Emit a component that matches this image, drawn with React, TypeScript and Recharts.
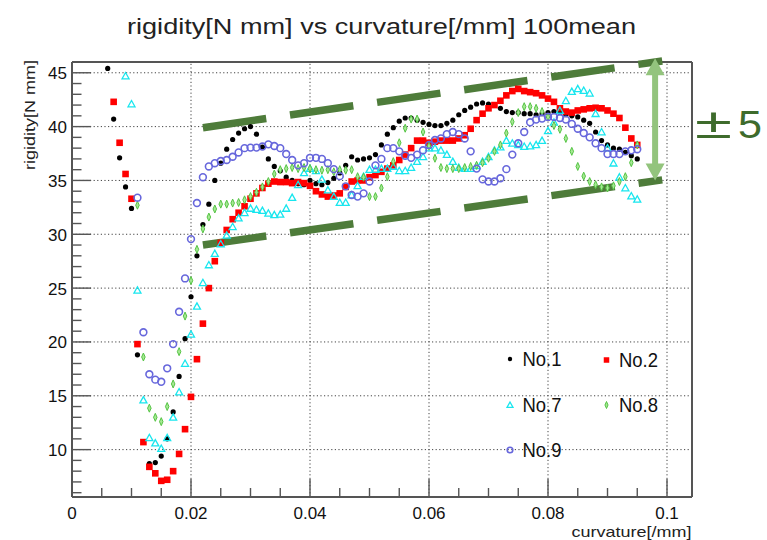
import React from "react";
import { ScatterChart, Scatter, XAxis, YAxis, ReferenceLine } from "recharts";

const FONT = '"Liberation Sans", Arial, Helvetica, sans-serif';

// curvature [/mm], rigidity [N mm]
const no1: [number, number][] = [
  [0.006, 45.4], [0.007, 40.7], [0.008, 37.1], [0.009, 34.4], [0.010, 32.4], [0.011, 18.8],
  [0.013, 8.7], [0.014, 8.8], [0.015, 9.4], [0.016, 11.0], [0.017, 13.5], [0.018, 16.8],
  [0.019, 20.3], [0.020, 24.2], [0.021, 28.0], [0.022, 30.9], [0.023, 32.8], [0.024, 35.0],
  [0.025, 36.6], [0.026, 37.9], [0.027, 38.8], [0.028, 39.4], [0.029, 39.8], [0.030, 40.0],
  [0.031, 39.3], [0.032, 38.1], [0.033, 37.0], [0.034, 36.3], [0.035, 35.9], [0.036, 35.3],
  [0.037, 35.0], [0.038, 34.7], [0.039, 34.6], [0.040, 35.0], [0.041, 34.7], [0.042, 34.6],
  [0.043, 34.8], [0.044, 35.2], [0.045, 35.7], [0.046, 36.4], [0.047, 37.2], [0.048, 36.9],
  [0.049, 37.0], [0.050, 37.1], [0.051, 37.4], [0.052, 38.3], [0.053, 39.3], [0.054, 39.9],
  [0.055, 40.5], [0.056, 40.8], [0.057, 40.8], [0.058, 40.6], [0.059, 40.4], [0.060, 40.2],
  [0.061, 40.1], [0.062, 40.1], [0.063, 40.3], [0.064, 40.6], [0.065, 41.1], [0.066, 41.5],
  [0.067, 41.8], [0.068, 42.1], [0.069, 42.2], [0.070, 42.1], [0.071, 42.0], [0.072, 41.7],
  [0.073, 41.4], [0.074, 41.3], [0.075, 41.3], [0.076, 41.2], [0.077, 41.2], [0.078, 41.1],
  [0.079, 41.2], [0.080, 41.3], [0.081, 41.4], [0.082, 41.3], [0.083, 41.1], [0.084, 41.0],
  [0.085, 40.9], [0.086, 40.6], [0.087, 40.3], [0.088, 39.5], [0.089, 38.7], [0.090, 38.3],
  [0.091, 38.0], [0.092, 37.9], [0.093, 37.6], [0.094, 37.3], [0.095, 37.0],
];

const no2: [number, number][] = [
  [0.007, 42.3], [0.008, 38.5], [0.009, 35.6], [0.010, 33.3], [0.011, 19.8], [0.012, 10.7],
  [0.013, 8.4], [0.014, 7.8], [0.015, 7.1], [0.016, 7.2], [0.017, 8.0], [0.018, 9.6],
  [0.019, 11.9], [0.020, 14.9], [0.021, 18.4], [0.022, 21.7], [0.023, 25.0], [0.024, 27.5],
  [0.025, 29.2], [0.026, 30.4], [0.027, 31.4], [0.028, 32.0], [0.029, 32.6], [0.030, 33.3],
  [0.031, 33.8], [0.032, 34.3], [0.033, 34.7], [0.034, 34.9], [0.035, 34.85], [0.036, 34.85],
  [0.037, 34.75], [0.038, 34.85], [0.039, 34.75], [0.040, 34.5], [0.041, 34.0], [0.042, 33.7],
  [0.043, 33.5], [0.044, 33.6], [0.045, 33.8], [0.046, 34.4], [0.047, 34.9], [0.048, 35.0],
  [0.049, 35.0], [0.050, 35.3], [0.051, 35.5], [0.052, 35.8], [0.053, 36.1], [0.054, 36.4],
  [0.055, 36.9], [0.056, 37.4], [0.057, 38.0], [0.058, 38.7], [0.059, 38.7], [0.060, 38.5],
  [0.061, 38.6], [0.062, 38.7], [0.063, 38.7], [0.064, 38.7], [0.065, 38.9], [0.066, 39.2],
  [0.067, 39.8], [0.068, 40.6], [0.069, 41.2], [0.070, 41.7], [0.071, 42.0], [0.072, 42.4],
  [0.073, 42.9], [0.074, 43.3], [0.075, 43.5], [0.076, 43.3], [0.077, 43.2], [0.078, 43.1],
  [0.079, 42.9], [0.080, 42.6], [0.081, 42.3], [0.082, 41.7], [0.083, 41.4], [0.084, 41.3],
  [0.085, 41.5], [0.086, 41.6], [0.087, 41.7], [0.088, 41.75], [0.089, 41.7], [0.090, 41.5],
  [0.091, 41.2], [0.092, 40.8], [0.093, 39.9], [0.094, 38.9], [0.095, 38.3],
];

const no7: [number, number][] = [
  [0.009, 44.7], [0.010, 42.1], [0.011, 24.8], [0.012, 14.6], [0.013, 11.1], [0.014, 10.6],
  [0.015, 10.1], [0.016, 11.1], [0.017, 13.0], [0.018, 15.35], [0.019, 18.0], [0.020, 20.7],
  [0.021, 23.3], [0.022, 25.5], [0.023, 27.15], [0.024, 28.2], [0.025, 29.1], [0.026, 29.9],
  [0.027, 30.7], [0.028, 31.5], [0.029, 32.0], [0.030, 32.4], [0.031, 32.3], [0.032, 32.2],
  [0.033, 31.95], [0.034, 31.8], [0.035, 31.85], [0.036, 32.4], [0.037, 33.4], [0.038, 34.6],
  [0.039, 35.7], [0.040, 36.1], [0.041, 35.9], [0.042, 35.1], [0.043, 34.1], [0.044, 33.5],
  [0.045, 32.95], [0.046, 32.95], [0.047, 33.65], [0.048, 34.5], [0.049, 35.35], [0.050, 36.0],
  [0.051, 36.0], [0.052, 36.1], [0.053, 36.1], [0.054, 36.3], [0.055, 35.9], [0.056, 35.9],
  [0.057, 36.2], [0.058, 36.75], [0.059, 37.2], [0.060, 38.0], [0.061, 38.0], [0.062, 37.8],
  [0.063, 37.4], [0.064, 36.75], [0.065, 36.2], [0.066, 36.1], [0.067, 36.1], [0.068, 36.35],
  [0.069, 36.75], [0.070, 37.2], [0.071, 37.8], [0.072, 38.1], [0.073, 38.7], [0.074, 38.45],
  [0.075, 38.3], [0.076, 38.15], [0.077, 38.2], [0.078, 38.3], [0.079, 38.7], [0.080, 39.6],
  [0.081, 40.4], [0.082, 41.5], [0.083, 42.4], [0.084, 43.25], [0.085, 43.5], [0.086, 43.35],
  [0.087, 43.1], [0.088, 41.2], [0.089, 39.5], [0.090, 38.0], [0.091, 36.6], [0.092, 35.3],
  [0.093, 34.3], [0.094, 33.55], [0.095, 33.25],
];

const no8: [number, number][] = [
  [0.011, 32.7], [0.012, 18.6], [0.013, 13.85], [0.014, 13.0], [0.015, 12.6], [0.016, 14.0],
  [0.017, 16.1], [0.018, 19.1], [0.019, 22.4], [0.020, 25.7], [0.021, 28.6], [0.022, 30.5],
  [0.023, 31.6], [0.024, 32.35], [0.025, 32.8], [0.026, 32.8], [0.027, 32.9], [0.028, 32.95],
  [0.029, 33.2], [0.030, 33.5], [0.031, 33.9], [0.032, 34.4], [0.033, 34.9], [0.034, 35.6],
  [0.035, 36.0], [0.036, 36.1], [0.037, 36.2], [0.038, 36.1], [0.039, 36.2], [0.040, 36.1],
  [0.041, 36.0], [0.042, 35.95], [0.043, 36.0], [0.044, 35.8], [0.045, 36.0], [0.046, 35.95],
  [0.047, 36.0], [0.048, 35.35], [0.049, 35.3], [0.050, 33.5], [0.051, 33.5], [0.052, 34.3],
  [0.053, 35.35], [0.054, 36.75], [0.055, 38.5], [0.056, 39.85], [0.057, 40.7], [0.058, 40.7],
  [0.059, 39.5], [0.060, 38.2], [0.061, 37.06], [0.062, 36.2], [0.063, 36.1], [0.064, 36.1],
  [0.065, 36.1], [0.066, 36.2], [0.067, 36.3], [0.068, 36.4], [0.069, 36.65], [0.070, 37.06],
  [0.071, 37.7], [0.072, 38.3], [0.073, 39.4], [0.074, 40.45], [0.075, 41.3], [0.076, 41.85],
  [0.077, 41.85], [0.078, 41.7], [0.079, 41.4], [0.080, 40.9], [0.081, 40.1], [0.082, 39.75],
  [0.083, 38.9], [0.084, 37.7], [0.085, 36.3], [0.086, 35.4], [0.087, 34.9], [0.088, 34.6],
  [0.089, 34.4], [0.090, 34.3], [0.091, 34.5], [0.092, 34.9], [0.093, 35.35], [0.094, 36.65],
  [0.095, 38.3],
];

const no9: [number, number][] = [
  [0.011, 33.4], [0.012, 20.9], [0.013, 17.0], [0.014, 16.5], [0.015, 16.3], [0.016, 17.55],
  [0.017, 19.8], [0.018, 22.8], [0.019, 25.9], [0.020, 29.55], [0.021, 32.9], [0.022, 35.3],
  [0.023, 36.3], [0.024, 36.6], [0.025, 36.8], [0.026, 36.9], [0.027, 37.2], [0.028, 37.6],
  [0.029, 38.0], [0.030, 38.05], [0.031, 38.05], [0.032, 38.15], [0.033, 38.35], [0.034, 38.2],
  [0.035, 38.0], [0.036, 37.45], [0.037, 36.9], [0.038, 36.4], [0.039, 36.6], [0.040, 37.1],
  [0.041, 37.1], [0.042, 37.0], [0.043, 36.6], [0.044, 36.05], [0.045, 35.4], [0.046, 34.45],
  [0.047, 33.65], [0.048, 33.5], [0.049, 33.8], [0.050, 34.9], [0.051, 36.4], [0.052, 37.0],
  [0.053, 38.0], [0.054, 38.0], [0.055, 37.7], [0.056, 37.3], [0.057, 37.1], [0.058, 37.4],
  [0.059, 37.8], [0.060, 38.3], [0.061, 38.75], [0.062, 38.9], [0.063, 39.3], [0.064, 39.5],
  [0.065, 39.3], [0.066, 38.9], [0.067, 37.7], [0.068, 36.1], [0.069, 35.1], [0.070, 34.9],
  [0.071, 34.9], [0.072, 35.2], [0.073, 36.05], [0.074, 37.4], [0.075, 38.45], [0.076, 39.5],
  [0.077, 40.4], [0.078, 40.65], [0.079, 40.75], [0.080, 40.9], [0.081, 40.9], [0.082, 40.8],
  [0.083, 40.65], [0.084, 40.25], [0.085, 39.8], [0.086, 39.4], [0.087, 39.0], [0.088, 38.45],
  [0.089, 38.0], [0.090, 37.45], [0.091, 37.45], [0.092, 37.45], [0.093, 37.7], [0.094, 37.8],
  [0.095, 37.9],
];

const xTicks = [0, 0.005, 0.01, 0.015, 0.02, 0.025, 0.03, 0.035, 0.04, 0.045, 0.05, 0.055, 0.06, 0.065, 0.07, 0.075, 0.08, 0.085, 0.09, 0.095, 0.1];
const xMajor = [0, 0.02, 0.04, 0.06, 0.08, 0.1];
const xLabels = ["0", "0.02", "0.04", "0.06", "0.08", "0.1"];

const yTicks = [6, 7, 8, 9, 10, 11, 12, 13, 14, 15, 16, 17, 18, 19, 20, 21, 22, 23, 24, 25, 26, 27, 28, 29, 30, 31, 32, 33, 34, 35, 36, 37, 38, 39, 40, 41, 42, 43, 44, 45, 46];
const yMajor = [10, 15, 20, 25, 30, 35, 40, 45];
const yLabels = ["10", "15", "20", "25", "30", "35", "40", "45"];

// hand drawn ±5 band and arrow (data coords)
const bandUpper = [{ x: 0.022, y: 39.9 }, { x: 0.0992, y: 46.1 }];
const bandLower = [{ x: 0.022, y: 29.0 }, { x: 0.0992, y: 35.05 }];
const bandArrow = [{ x: 0.098, y: 46.35 }, { x: 0.098, y: 35.0 }];

const toPts = (a: [number, number][]) => a.map(([x, y]) => ({ x, y }));

const AXIS = "#555";

const BlackDot = ({ cx, cy, r = 2.6 }: any) => <circle cx={cx} cy={cy} r={r} fill="#000" />;
const RedSquare = ({ cx, cy, s = 6.6 }: any) => <rect x={cx - s / 2} y={cy - s / 2} width={s} height={s} fill="#ff0000" />;
const CyanTriangle = ({ cx, cy, s = 7 }: any) => (
  <polygon points={`${cx},${cy - s * 0.5} ${cx + s * 0.5},${cy + s * 0.4} ${cx - s * 0.5},${cy + s * 0.4}`} fill="none" stroke="#18e6ee" strokeWidth={1.3} />
);
const GreenDiamond = ({ cx, cy, s = 8 }: any) => (
  <polygon points={`${cx},${cy - s / 2} ${cx + s * 0.22},${cy} ${cx},${cy + s / 2} ${cx - s * 0.22},${cy}`} fill="#a6e894" stroke="#55c444" strokeWidth={1} />
);
const BlueCircle = ({ cx, cy, r = 3.4 }: any) => <circle cx={cx} cy={cy} r={r} fill="none" stroke="#6767dc" strokeWidth={1.6} />;

function XTick(props: any) {
  const { x, y, payload } = props;
  const idx = xMajor.findIndex((m) => Math.abs(m - payload.value) < 1e-9);
  const major = idx >= 0;
  return (
    <g>
      <line x1={x} x2={x} y1={y} y2={y - (major ? 18 : 9)} stroke={AXIS} strokeWidth={1.4} />
      {major && (
        <text x={x} y={y + 22} textAnchor="middle" fontSize={17} fill="#111" fontFamily={FONT}>
          {xLabels[idx]}
        </text>
      )}
    </g>
  );
}

function YTick(props: any) {
  const { x, y, payload } = props;
  const idx = yMajor.findIndex((m) => Math.abs(m - payload.value) < 1e-9);
  const major = idx >= 0;
  return (
    <g>
      <line x1={x} x2={x + (major ? 19 : 9.5)} y1={y} y2={y} stroke={AXIS} strokeWidth={1.4} />
      {major && (
        <text x={x - 5} y={y + 6.5} textAnchor="end" fontSize={17} fill="#111" fontFamily={FONT}>
          {yLabels[idx]}
        </text>
      )}
    </g>
  );
}

function DoubleArrow(props: any) {
  const { x1, y1, y2 } = props;
  const top = Math.min(y1, y2);
  const bot = Math.max(y1, y2);
  const x = x1;
  const head = 17;
  const half = 9.5;
  const sh = 3;
  const d = `M${x},${top} L${x + half},${top + head} L${x + sh},${top + head} L${x + sh},${bot - head} L${x + half},${bot - head} L${x},${bot} L${x - half},${bot - head} L${x - sh},${bot - head} L${x - sh},${top + head} L${x - half},${top + head} Z`;
  return <path d={d} fill="#93c47d" />;
}

const legendItems = [
  { name: "No.1", Mark: BlackDot, mx: 510, my: 359, props: { r: 2.2 } },
  { name: "No.2", Mark: RedSquare, mx: 606.5, my: 360, props: { s: 5.5 } },
  { name: "No.7", Mark: CyanTriangle, mx: 510, my: 405, props: { s: 6 } },
  { name: "No.8", Mark: GreenDiamond, mx: 606.5, my: 405, props: { s: 7 } },
  { name: "No.9", Mark: BlueCircle, mx: 510, my: 450, props: { r: 2.8 } },
];

export default function App() {
  return (
    <div style={{ position: "absolute", left: 0, top: 0, width: 767, height: 540, background: "#fff", overflow: "hidden" }}>
      <ScatterChart width={767} height={540} margin={{ top: 62, right: 75, bottom: 13, left: 32 }}>
        <XAxis
          dataKey="x"
          type="number"
          domain={[0, 0.1042]}
          allowDataOverflow
          ticks={xTicks}
          interval={0}
          height={30}
          tickSize={0}
          tickMargin={0}
          tickLine={false}
          axisLine={{ stroke: AXIS, strokeWidth: 2 }}
          tick={XTick}
        />
        <YAxis
          dataKey="y"
          type="number"
          domain={[5.6, 46]}
          allowDataOverflow
          ticks={yTicks}
          interval={0}
          width={40}
          tickSize={0}
          tickMargin={0}
          tickLine={false}
          axisLine={{ stroke: AXIS, strokeWidth: 2 }}
          tick={YTick}
        />
        {xMajor.slice(1).map((v) => (
          <ReferenceLine key={"gx" + v} x={v} stroke="#444" strokeWidth={1} strokeDasharray="1.2 2.4" ifOverflow="visible" />
        ))}
        {yMajor.map((v) => (
          <ReferenceLine key={"gy" + v} y={v} stroke="#444" strokeWidth={1} strokeDasharray="1.2 2.4" ifOverflow="visible" />
        ))}
        <ReferenceLine y={46} stroke={AXIS} strokeWidth={2} ifOverflow="visible" />
        <ReferenceLine x={0.1042} stroke={AXIS} strokeWidth={2} ifOverflow="visible" />

        <Scatter name="No.1" data={toPts(no1)} isAnimationActive={false} shape={(p: any) => <BlackDot cx={p.cx} cy={p.cy} />} />
        <Scatter name="No.2" data={toPts(no2)} isAnimationActive={false} shape={(p: any) => <RedSquare cx={p.cx} cy={p.cy} />} />
        <Scatter name="No.7" data={toPts(no7)} isAnimationActive={false} shape={(p: any) => <CyanTriangle cx={p.cx} cy={p.cy} />} />
        <Scatter name="No.8" data={toPts(no8)} isAnimationActive={false} shape={(p: any) => <GreenDiamond cx={p.cx} cy={p.cy} />} />
        <Scatter name="No.9" data={toPts(no9)} isAnimationActive={false} shape={(p: any) => <BlueCircle cx={p.cx} cy={p.cy} />} />

        <ReferenceLine segment={bandUpper} stroke="#4e7c3a" strokeWidth={7.5} strokeDasharray="64 24" ifOverflow="visible" />
        <ReferenceLine segment={bandLower} stroke="#4e7c3a" strokeWidth={7.5} strokeDasharray="64 24" ifOverflow="visible" />
        <ReferenceLine segment={bandArrow} shape={DoubleArrow} ifOverflow="visible" />
      </ScatterChart>

      <svg width={767} height={540} style={{ position: "absolute", left: 0, top: 0, pointerEvents: "none" }} fontFamily={FONT}>
        <text x={381.5} y={34} textAnchor="middle" fontSize={22} fill="#222" textLength={509} lengthAdjust="spacingAndGlyphs">
          rigidity[N mm] vs curvature[/mm] 100mean
        </text>
        <text transform="translate(35,60) rotate(-90)" textAnchor="end" fontSize={15} fill="#222" textLength={110} lengthAdjust="spacingAndGlyphs">
          rigidity[N mm]
        </text>
        <text x={691.5} y={537} textAnchor="end" fontSize={15} fill="#222" textLength={120} lengthAdjust="spacingAndGlyphs">
          curvature[/mm]
        </text>
        <text x={695} y={138} fontSize={42} fill="#3e6b2c" textLength={37} lengthAdjust="spacingAndGlyphs">
          ±
        </text>
        <text x={738} y={138} fontSize={38} fill="#3e6b2c" textLength={24} lengthAdjust="spacingAndGlyphs">
          5
        </text>
        {legendItems.map(({ name, Mark, mx, my, props }) => (
          <g key={name}>
            <Mark cx={mx} cy={my} {...props} />
            <text x={mx + 12.5} y={my + 7.2} fontSize={20} fill="#111" textLength={39} lengthAdjust="spacingAndGlyphs">
              {name}
            </text>
          </g>
        ))}
      </svg>
    </div>
  );
}
